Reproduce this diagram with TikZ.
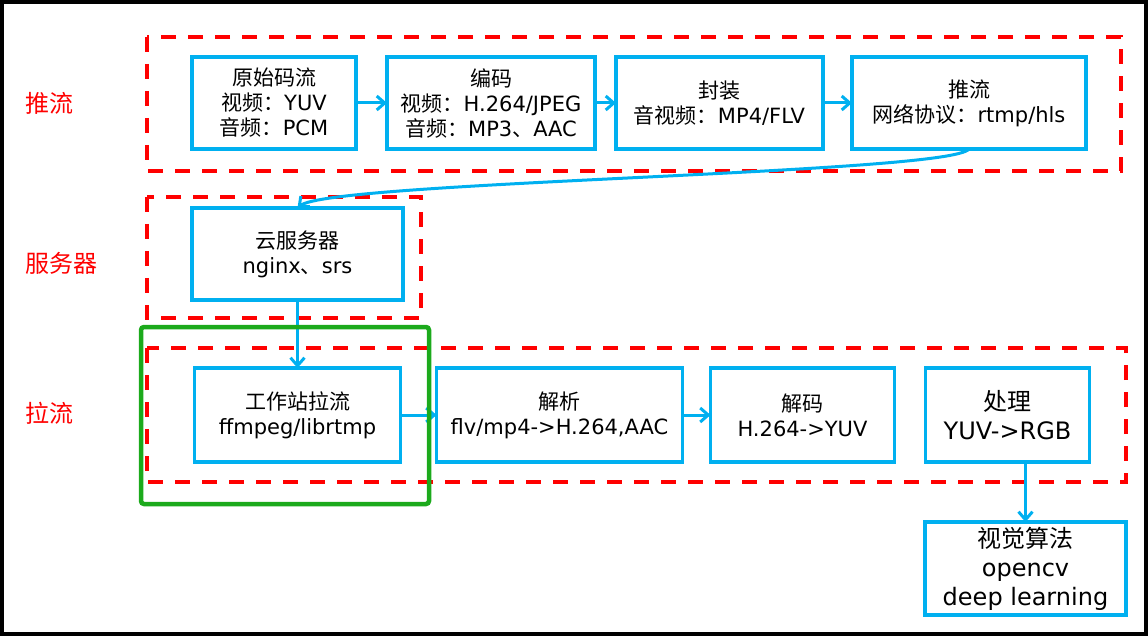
\documentclass[tikz,border=0pt]{standalone}
\usepackage{fontspec}
\setmainfont{DejaVu Sans}
\newfontfamily\cjk{Noto Sans CJK SC}
\usetikzlibrary{positioning, arrows.meta}
\definecolor{flowblue}{RGB}{0,176,240}
\definecolor{framegreen}{RGB}{28,170,28}

\begin{document}
\begin{tikzpicture}[x=1pt, y=-1pt,
		box/.style={draw=flowblue, line width=3.2pt, align=center, minimum height=92pt, inner sep=2pt, outer sep=0pt, font=\fontsize{21}{25}\selectfont},
		bigbox/.style={box, font=\fontsize{24}{29}\selectfont},
		flow/.style={draw=flowblue, line width=3pt, -{Straight Barb[length=8pt,width=14pt]}},
		stage/.style={draw=red, line width=4pt, dash pattern=on 15pt off 12pt},
		stagename/.style={text=red, anchor=west, font=\fontsize{24}{28}\selectfont\cjk}]
			\useasboundingbox (0,0) rectangle (1148,636);
			\draw[line width=4pt] (2,2) rectangle (1146,634);

			\draw[stage] (147,37) rectangle (1121,171);
			\draw[stage] (147,197) rectangle (421,318);
			\draw[stage] (147,348) rectangle (1126,482);

			\node[stagename]  (lblpush)  at (22,103)  {推流};
			\node[stagename]  (lblserver)  at (22,263)  {服务器};
			\node[stagename]  (lblpull)  at (22,413)  {拉流};

			\node[box, minimum width=164pt]  (raw)  at (274,103)  {{\cjk 原始码流}\\{\cjk 视频：}YUV\\{\cjk 音频：}PCM};
			\node[box, minimum width=208pt, right=31pt of raw]  (enc)  {{\cjk 编码}\\{\cjk 视频：}H.264/JPEG\\{\cjk 音频：}MP3{\cjk 、}AAC};
			\node[box, minimum width=207pt, right=21pt of enc]  (pack)  {{\cjk 封装}\\{\cjk 音视频：}MP4/FLV};
			\node[box, minimum width=234pt, right=29pt of pack]  (push)  {{\cjk 推流}\\{\cjk 网络协议：}rtmp/hls};

			\node[box, minimum width=211pt]  (cloud)  at (297.5,254)  {{\cjk 云服务器}\\nginx{\cjk 、}srs};

			\node[box, minimum width=206pt, minimum height=94pt, below=68pt of cloud]  (pull)  {{\cjk 工作站拉流}\\ffmpeg/librtmp};
			\node[box, minimum width=246pt, minimum height=94pt, right=36pt of pull]  (parse)  {{\cjk 解析}\\flv/mp4->H.264,AAC};
			\node[box, minimum width=184pt, minimum height=94pt, right=28pt of parse]  (decode)  {{\cjk 解码}\\H.264->YUV};
			\node[bigbox, minimum width=164pt, minimum height=94pt, right=31pt of decode]  (proc)  {{\cjk 处理}\\YUV->RGB};
			\node[bigbox, minimum width=201pt, minimum height=93pt]  (vision)  at (1025.5,568.5)  {{\cjk 视觉算法}\\opencv\\deep learning};

			\draw[flow] (raw) -- (enc);
			\draw[flow] (enc) -- (pack);
			\draw[flow] (pack) -- (push);
			\draw[flow] (push.south) .. controls +(-18,25) and +(32,-27) .. (cloud.north);
			\draw[flow] (pull.north |- cloud.south) -- (pull.north);
			\draw[flow] (pull) -- (parse);
			\draw[flow] (parse) -- (decode);
			\draw[flow] (proc.south -| vision.north) -- (vision.north);

			\draw[framegreen, line width=4.5pt, rounded corners=3pt] (141,327) rectangle (429,504);
		\end{tikzpicture}
\end{document}
